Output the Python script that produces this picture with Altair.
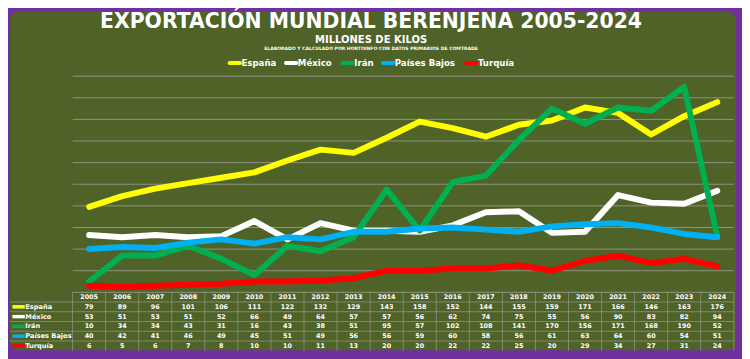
import altair as alt
import pandas as pd

years = list(range(2005, 2025))
series = ["España", "México", "Irán", "Países Bajos", "Turquía"]
colors = ["#FFFF00", "#FFFFFF", "#00B050", "#00B0F0", "#FF0000"]

espana = [79, 89, 96, 101, 106, 111, 122, 132, 129, 143, 158, 152, 144, 155, 159, 171, 166, 146, 163, 176]
mexico = [53, 51, 53, 51, 52, 66, 49, 64, 57, 57, 56, 62, 74, 75, 55, 56, 90, 83, 82, 94]
iran = [10, 34, 34, 43, 31, 16, 43, 38, 51, 95, 57, 102, 108, 141, 170, 156, 171, 168, 190, 52]
paises_bajos = [40, 42, 41, 46, 49, 45, 51, 49, 56, 56, 59, 60, 58, 56, 61, 63, 64, 60, 54, 51]
turquia = [6, 5, 6, 7, 8, 10, 10, 11, 13, 20, 20, 22, 22, 25, 20, 29, 34, 27, 31, 24]
grid_values = [0, 20, 40, 60, 80, 100, 120, 140, 160, 180, 200]

title_text = "EXPORTACIÓN MUNDIAL BERENJENA 2005-2024"
subtitle_text = "MILLONES DE KILOS"
source_text = "ELABORADO Y CALCULADO POR HORTOINFO CON DATOS PRIMARIOS DE COMTRADE"

all_values = [espana, mexico, iran, paises_bajos, turquia]

OLIVE = "#4F6228"
PURPLE = "#7030A0"
GRIDC = "#8F9482"
FONT = "DejaVu Sans"

# layout of the custom legend (left edge of each swatch, chart pixels)
LEGEND_X = [222, 279, 336, 377, 461]
LEGEND_Y = 53.7
SWATCH_W = 13.5

xscale = alt.Scale(domain=[2005, 2024], range=[82, 717], nice=False, zero=False)
yscale = alt.Scale(domain=[0, 200], range=[285.5, 67], nice=False, zero=False)
rscale = alt.Scale(domain=[0, 5], range=[290.3, 339.7], nice=False, zero=False)
cscale = alt.Scale(domain=series, range=colors)

long_rows = []
for s, vals in zip(series, all_values):
    for y, v in zip(years, vals):
        long_rows.append({"year": y, "serie": s, "value": v})
df = pd.DataFrame(long_rows)

bg = alt.Chart(alt.Data(values=[{}])).mark_rect(fill=OLIVE, cornerRadius=8).encode(
    x=alt.value(2), x2=alt.value(736), y=alt.value(2), y2=alt.value(344)
)

griddf = pd.DataFrame({"g": grid_values, "x1": 2004.5, "x2": 2024.5})
grid = alt.Chart(griddf).mark_rule(color=GRIDC, strokeWidth=1).encode(
    x=alt.X("x1:Q", scale=xscale, axis=None), x2="x2:Q",
    y=alt.Y("g:Q", scale=yscale, axis=None),
)

vdf = pd.DataFrame({"xb": [y - 0.5 for y in years] + [2024.5], "r1": -0.5, "r2": 5.5})
vlines = alt.Chart(vdf).mark_rule(color=GRIDC, strokeWidth=0.8).encode(
    x=alt.X("xb:Q", scale=xscale, axis=None),
    y=alt.Y("r1:Q", scale=rscale, axis=None), y2="r2:Q",
)

hdf = pd.DataFrame({"r": [0.5, 1.5, 2.5, 3.5, 4.5]})
hlines = alt.Chart(hdf).mark_rule(color=GRIDC, strokeWidth=0.8).encode(
    x=alt.value(2), x2=alt.value(733.7),
    y=alt.Y("r:Q", scale=rscale, axis=None),
)

line_layers = []
for s in series:
    line_layers.append(
        alt.Chart(df[df.serie == s]).mark_line(strokeWidth=6, strokeCap="round", strokeJoin="round").encode(
            x=alt.X("year:Q", scale=xscale, axis=None),
            y=alt.Y("value:Q", scale=yscale, axis=None),
            color=alt.Color("serie:N", scale=cscale, legend=None),
        )
    )

# custom top legend
legend_layers = []
for s, c, lx in zip(series, colors, LEGEND_X):
    legend_layers.append(
        alt.Chart(alt.Data(values=[{}])).mark_rule(color=c, strokeWidth=4, strokeCap="round").encode(
            x=alt.value(lx + 2), x2=alt.value(lx + SWATCH_W - 1), y=alt.value(LEGEND_Y)
        )
    )
    legend_layers.append(
        alt.Chart(alt.Data(values=[{}])).mark_text(
            text=s, font=FONT, fontWeight="bold", fontSize=8.7, color="white", align="left", baseline="middle"
        ).encode(x=alt.value(lx + SWATCH_W + 0.5), y=alt.value(LEGEND_Y))
    )

ldf = pd.DataFrame({"serie": series, "r": [1, 2, 3, 4, 5], "col": colors})
swatches = alt.Chart(ldf).mark_rule(strokeWidth=3.5).encode(
    x=alt.value(4.5), x2=alt.value(17),
    y=alt.Y("r:Q", scale=rscale, axis=None),
    stroke=alt.Stroke("col:N", scale=None),
)
labels = alt.Chart(ldf).mark_text(
    font=FONT, fontWeight="bold", fontSize=6.7, color="white", align="left", baseline="middle"
).encode(x=alt.value(17.5), y=alt.Y("r:Q", scale=rscale, axis=None), text="serie:N")

trows = [{"year": y, "r": 0, "t": str(y)} for y in years]
for i, vals in enumerate(all_values):
    for y, v in zip(years, vals):
        trows.append({"year": y, "r": i + 1, "t": str(v)})
tdf = pd.DataFrame(trows)
table = alt.Chart(tdf).mark_text(
    font=FONT, fontWeight="bold", fontSize=6.5, color="white", baseline="middle"
).encode(
    x=alt.X("year:Q", scale=xscale, axis=None),
    y=alt.Y("r:Q", scale=rscale, axis=None),
    text="t:N",
)

def label(txt, y, size):
    return alt.Chart(alt.Data(values=[{}])).mark_text(
        text=txt, font=FONT, fontWeight="bold", fontSize=size, color="white", align="center", baseline="alphabetic"
    ).encode(x=alt.value(367), y=alt.value(y))

t1 = label(title_text, 18.7, 20.6)
t2 = label(subtitle_text, 33.7, 10.1)
t3 = label(source_text, 40.3, 4.6)

chart = alt.layer(
    bg, grid, vlines, hlines, *line_layers, *legend_layers, swatches, labels, table, t1, t2, t3
).resolve_scale(y="independent").properties(
    width=742, height=351, autosize=alt.AutoSizeParams(type="none"), padding=0, background=PURPLE
).configure_view(stroke=None)

chart.save("out.html", embed_options={"renderer": "svg", "actions": False})
